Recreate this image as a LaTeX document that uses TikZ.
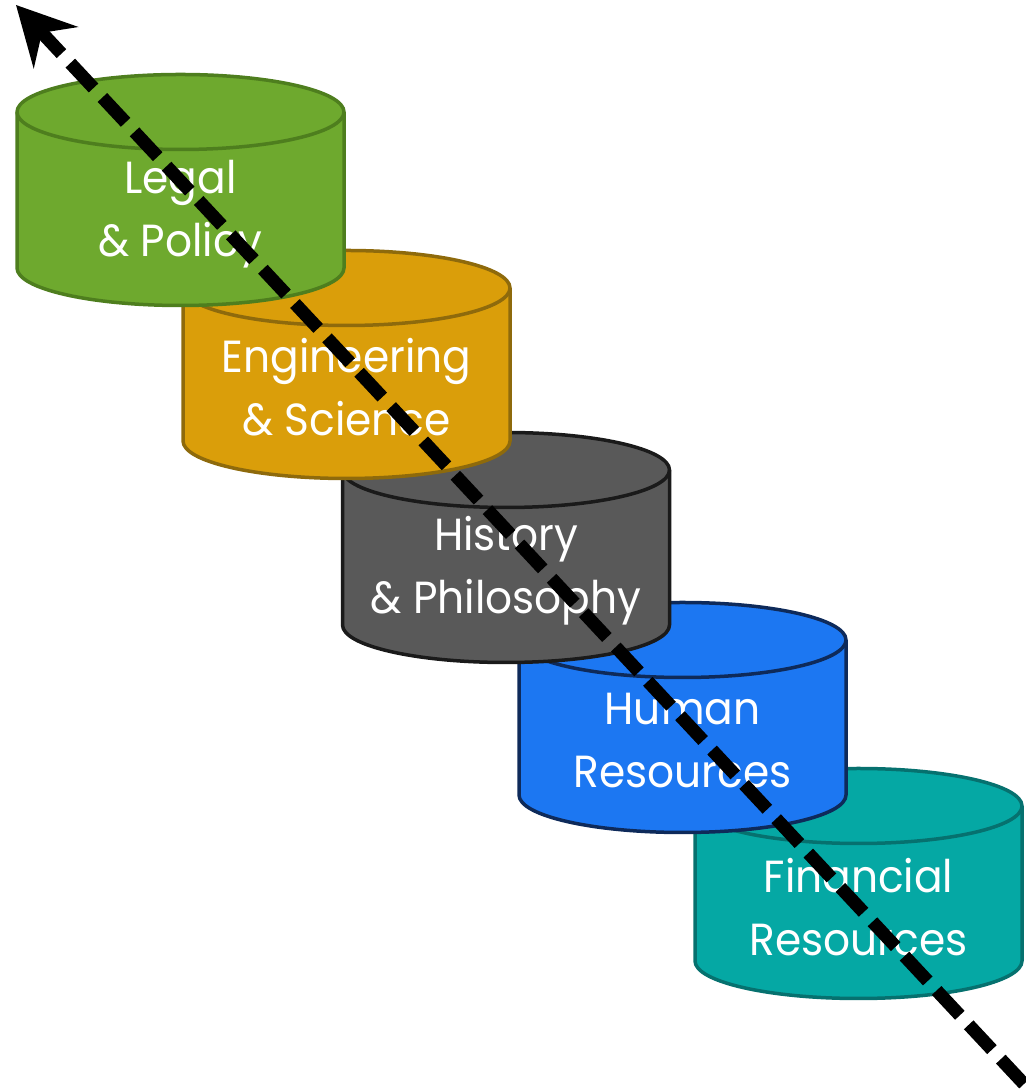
\documentclass[tikz,border=0pt]{standalone}
\usepackage{fontspec}
\setmainfont{Poppins}[FakeStretch=0.94]
\usetikzlibrary{arrows.meta}
\definecolor{cgreen}{HTML}{6EA92E}
\definecolor{dgreen}{HTML}{4E7E1E}
\definecolor{corange}{HTML}{DA9E0A}
\definecolor{dorange}{HTML}{8E6A0C}
\definecolor{cgray}{HTML}{595959}
\definecolor{dgray}{HTML}{1A1A1A}
\definecolor{cblue}{HTML}{1C77F2}
\definecolor{dblue}{HTML}{0E2A5A}
\definecolor{cteal}{HTML}{05A8A4}
\definecolor{dteal}{HTML}{06716F}
\newcommand\mycyl[7]{%
  \path[cylbody,fill=#5,draw=#6] (#2-163.5,#3) -- (#2-163.5,#4)
    arc[start angle=180,end angle=360,x radius=163.5,y radius=37.5]
    -- (#2+163.5,#3)
    arc[start angle=0,end angle=180,x radius=163.5,y radius=37.5] -- cycle;
  \draw[cylbody,draw=#6] (#2-163.5,#3)
    arc[start angle=180,end angle=360,x radius=163.5,y radius=37.5];
  \node[cyltext] (#1) at (#2,#4+54) {#7};
}
\tikzset{
  cylbody/.style={line width=3.5pt,line join=round},
  cyltext/.style={text=white,align=center,font=\fontsize{45}{63}\selectfont},
  flow/.style={line width=13pt,dash pattern=on 34pt off 13pt,
    -{Stealth[length=58pt,width=60pt,inset=20pt]}}
}
\begin{document}
\begin{tikzpicture}[x=1pt,y=1pt]
\useasboundingbox (0,0) rectangle (1025,1091);
\mycyl{fin}{858.5}{285}{130}{cteal}{dteal}{Financial\\Resources}
\mycyl{hum}{682.5}{451}{296}{cblue}{dblue}{Human\\Resources}
\mycyl{his}{506}{621}{466}{cgray}{dgray}{History\\\& Philosophy}
\mycyl{eng}{346.5}{803}{650}{corange}{dorange}{Engineering\\\& Science}
\mycyl{leg}{180.5}{979}{823}{cgreen}{dgreen}{Legal\\\& Policy}
\coordinate (tail) at (1024,7);
\coordinate (tip) at (16,1086);
\draw[flow] (tail) -- (tip);
\end{tikzpicture}
\end{document}
